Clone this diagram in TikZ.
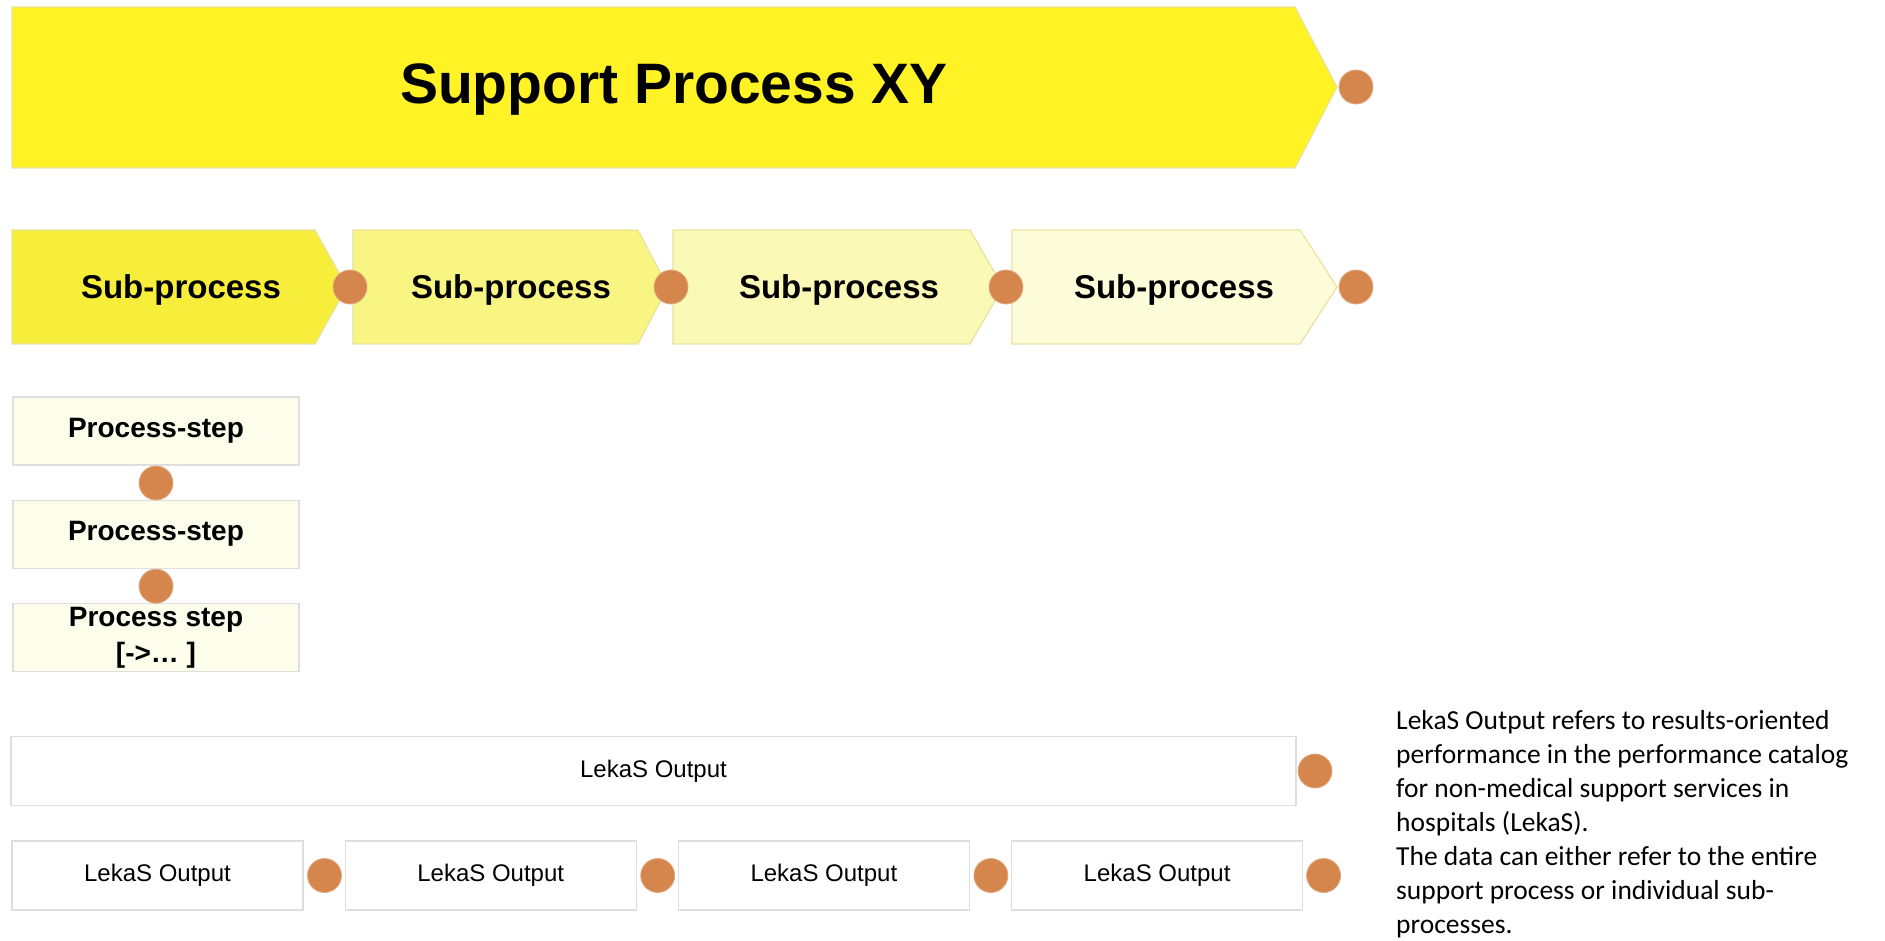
\documentclass[tikz,border=0pt]{standalone}
\usepackage{fontspec}
\setmainfont{Liberation Sans}
\newfontfamily\notefont{Carlito}
\usepackage{tikz}
\usetikzlibrary{positioning}
\definecolor{mainyellow}{RGB}{255,243,38}
\definecolor{subA}{RGB}{247,238,60}
\definecolor{subB}{RGB}{249,245,130}
\definecolor{subC}{RGB}{251,249,182}
\definecolor{subD}{RGB}{253,252,216}
\definecolor{stepfill}{RGB}{253,253,236}
\definecolor{subline}{RGB}{232,226,160}
\definecolor{boxline}{RGB}{222,222,222}
\definecolor{dotorange}{RGB}{213,134,77}

\begin{document}
\begin{tikzpicture}[x=1pt,y=-1pt,
	outdot/.style={circle, fill=dotorange, draw=dotorange!70!white, line width=0.8pt, minimum size=34pt, inner sep=0pt},
	subarrow/.style={draw=subline, line width=1.2pt},
	subtext/.style={font=\fontsize{33}{38}\selectfont\bfseries},
	stepbox/.style={draw=boxline, fill=stepfill, line width=1.2pt, minimum width=286pt, minimum height=68pt, inner sep=0pt, align=center, font=\fontsize{28}{36}\selectfont\bfseries},
	outbox/.style={draw=boxline, fill=white, line width=1.2pt, minimum width=291pt, minimum height=69pt, inner sep=0pt, font=\fontsize{24}{28}\selectfont}]
	\useasboundingbox (0,0) rectangle (1885,941);
	
	% main process
	\draw[subarrow, fill=mainyellow] (12,7) -- (1295,7) -- (1337,87) -- (1295,168) -- (12,168) -- cycle;
	\node[font=\fontsize{57}{68}\selectfont\bfseries] (main) at (674,90) {Support Process XY};
	\node[outdot] (mainout) at (1356,87) {};
	
	% sub-processes
	\draw[subarrow, fill=subA] (12,230) -- (315,230) -- (347,287) -- (315,344) -- (12,344) -- cycle;
	\draw[subarrow, fill=subB] (353,230) -- (638,230) -- (668,287) -- (638,344) -- (353,344) -- cycle;
	\draw[subarrow, fill=subC] (673,230) -- (970,230) -- (1003,287) -- (970,344) -- (673,344) -- cycle;
	\draw[subarrow, fill=subD] (1012,230) -- (1300,230) -- (1337,287) -- (1300,344) -- (1012,344) -- cycle;
	\node[subtext] (sub1) at (181,290) {Sub-process}; \node[subtext] (sub2) at (511,290) {Sub-process};
	\node[subtext] (sub3) at (839,290) {Sub-process}; \node[subtext] (sub4) at (1174,290) {Sub-process};
	\node[outdot] (sub1out) at (350,287) {}; \node[outdot] (sub2out) at (671,287) {};
	\node[outdot] (sub3out) at (1006,287) {}; \node[outdot] (sub4out) at (1356,287) {};
	
	% process steps
	\node[stepbox] (step1) at (156,431) {Process-step};
	\node[stepbox, below=34pt of step1] (step2) {Process-step};
	\node[stepbox, below=34pt of step2] (step3) {Process step\\{[}->… ]};
	\node[outdot, below=0pt of step1] (step1out) {}; \node[outdot, below=0pt of step2] (step2out) {};
	
	% LekaS outputs
	\node[outbox, minimum width=1285pt] (outall) at (653.5,771) {LekaS Output};
	\node[outdot] (outallout) at (1315,771) {};
	\node[outbox] (out1) at (157.5,875.5) {LekaS Output}; \node[outbox, right=41pt of out1] (out2) {LekaS Output};
	\node[outbox, right=41pt of out2] (out3) {LekaS Output}; \node[outbox, right=41pt of out3] (out4) {LekaS Output};
	\node[outdot, right=3.5pt of out1] (out1out) {}; \node[outdot, right=3.5pt of out2] (out2out) {};
	\node[outdot, right=3.5pt of out3] (out3out) {}; \node[outdot, right=3pt of out4] (out4out) {};
	
	% note, anchored on the baseline of its last line
	\node[anchor=base west, align=left, inner sep=0pt, font=\notefont\fontsize{27.5}{34}\selectfont] (note) at (1396,933) {LekaS Output refers to results-oriented\\performance in the performance catalog\\for non-medical support services in\\hospitals (LekaS).\\The data can either refer to the entire\\support process or individual sub-\\processes.};
\end{tikzpicture}
\end{document}
